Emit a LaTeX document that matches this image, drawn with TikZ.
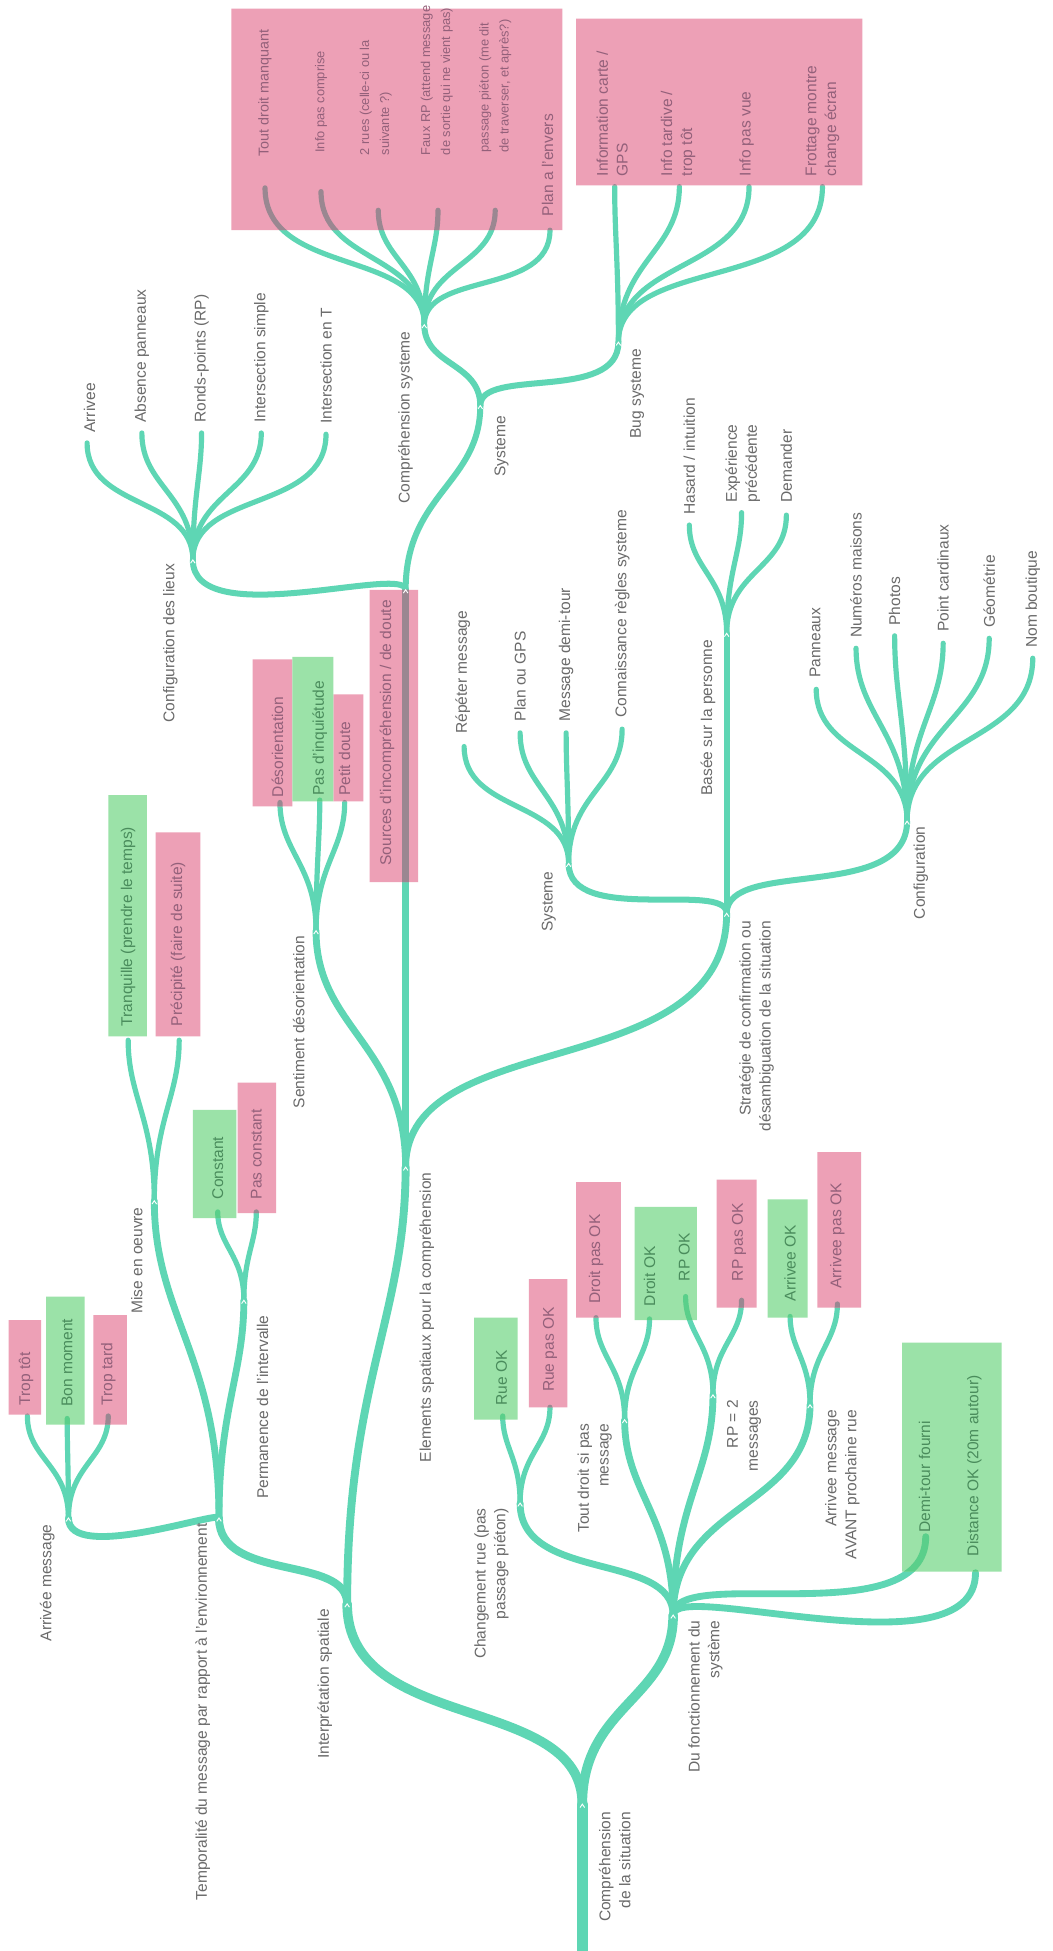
\documentclass[tikz,border=0pt]{standalone}
\usepackage{fontspec}
\setmainfont{Liberation Sans}
\usetikzlibrary{calc}
\definecolor{teal1}{HTML}{5ED6B4}
\definecolor{pinkb}{HTML}{EDA0B6}
\definecolor{greenb}{HTML}{9BE2A8}
\definecolor{inpink}{HTML}{9A8791}
\definecolor{ingreen}{HTML}{5ACF8A}
\definecolor{labc}{HTML}{6A6A6A}
\definecolor{pinkt}{HTML}{93607A}
\definecolor{greent}{HTML}{4A8C5C}
\newcommand\fs{\fontsize{7.5}{9.6}\selectfont}
\newcommand\fsb{\fontsize{6.2}{9.6}\selectfont}
\newcommand\fsc{\fontsize{6.9}{9.6}\selectfont}
\tikzset{
  bez/.style={to path={let \p1=(\tikztostart), \p2=(\tikztotarget),
      \n1={0.5*abs(\y2-\y1)+0.05*abs(\x2-\x1)},
      \n2={0.3*abs(\y2-\y1)+0.3*abs(\x2-\x1)} in
      .. controls (\x1,\y1+\n1) and (\x2,\y2-\n2) .. (\tikztotarget)}},
  lk/.style={draw=teal1, line cap=round},
  wA/.style={line width=5.4pt}, wB/.style={line width=4.6pt},
  wC/.style={line width=3.8pt}, wD/.style={line width=3.3pt},
  wE/.style={line width=2.9pt}, wF/.style={line width=2.5pt},
  leaf/.style={rotate=90, anchor=west, inner sep=0pt, align=left, text=labc, font=\fs},
  blab/.style={rotate=90, anchor=east, inner sep=0pt, align=right, text=labc, font=\fs},
  pinktx/.style={text=pinkt}, greentx/.style={text=greent},
  notch/.style={draw=white, line width=0.45pt},
}
\newcommand\allconns{%
  \draw[lk,wA] (RB) -- (R);
  \draw[lk,wB] (R) to[bez] (IS);
  \draw[lk,wB] (R) to[bez] (DF);
  \draw[lk,wC] (IS) to[bez] (TM);
  \draw[lk,wC] (IS) to[bez] (EL);
  \draw[lk,wD] (EL) to[bez] (SD);
  \draw[lk,wD] (EL) -- (SRC);
  \draw[lk,wD] (EL) to[bez] (ST);
  \draw[lk,wE] (SRC) to[bez] (CL);
  \draw[lk,wE] (SRC) to[bez] (SY);
  \draw[lk,wE] (SY) to[bez] (CS);
  \draw[lk,wE] (SY) to[bez] (BS);
  \draw[lk,wE] (ST) to[bez] (SY2);
  \draw[lk,wE] (ST) -- (BA);
  \draw[lk,wE] (ST) to[bez] (CF);
  \draw[lk,wD] (TM) to[bez] (AMs);
  \draw[lk,wD] (TM) to[bez] (MO);
  \draw[lk,wD] (TM) to[bez] (PI);
  \draw[lk,wD] (DF) to[bez] (CR);
  \draw[lk,wD] (DF) to[bez] (TD);
  \draw[lk,wD] (DF) to[bez] (RP2);
  \draw[lk,wD] (DF) to[bez] (AMv);
  \draw[lk,wD] (DF) to[bez] (e-dt);
  \draw[lk,wD] (DF) to[bez] (e-dist);
  \foreach \e in {tdm,ipc,rues,faux,pasp,plan} \draw[lk,wF] (CS) to[bez] (e-\e);
  \foreach \e in {info,itard,ivue,frot} \draw[lk,wF] (BS) to[bez] (e-\e);
  \foreach \e in {arr,abs,rond,isim,iT} \draw[lk,wF] (CL) to[bez] (e-\e);
  \foreach \e in {rep,pgps,mdt,conn} \draw[lk,wF] (SY2) to[bez] (e-\e);
  \foreach \e in {has,exp,dem} \draw[lk,wF] (BA) to[bez] (e-\e);
  \foreach \e in {pan,num,pho,pcard,geo,nomb} \draw[lk,wF] (CF) to[bez] (e-\e);
  \foreach \e in {deso,pasi,petit} \draw[lk,wF] (SD) to[bez] (e-\e);
  \foreach \e in {tranq,prec} \draw[lk,wF] (MO) to[bez] (e-\e);
  \foreach \e in {cst,pcst} \draw[lk,wF] (PI) to[bez] (e-\e);
  \foreach \e in {ttot,bonm,ttard} \draw[lk,wF] (AMs) to[bez] (e-\e);
  \foreach \e in {rok,rpas} \draw[lk,wF] (CR) to[bez] (e-\e);
  \foreach \e in {dpas,dok} \draw[lk,wF] (TD) to[bez] (e-\e);
  \foreach \e in {rpok,rppas} \draw[lk,wF] (RP2) to[bez] (e-\e);
  \foreach \e in {aok,apas} \draw[lk,wF] (AMv) to[bez] (e-\e);
}
\newcommand\pinkrects[1]{\path[#1]
  (186,7) rectangle (452,185)
  (463,15) rectangle (693,149)
  (297,474) rectangle (336,709)
  (203,530) rectangle (235,648)
  (268,558) rectangle (292,644)
  (125,669) rectangle (161,833)
  (191,870) rectangle (222,975)
  (7,1061) rectangle (33,1137)
  (75,1057) rectangle (102,1145)
  (425,1028) rectangle (456,1131)
  (463,950) rectangle (499,1059)
  (576,948) rectangle (608,1051)
  (657,926) rectangle (692,1051);}
\newcommand\greenrects[1]{\path[#1]
  (235,528) rectangle (268,644)
  (87,639) rectangle (118,833)
  (155,892) rectangle (190,979)
  (37,1042) rectangle (68,1145)
  (381,1059) rectangle (416,1141)
  (510,970) rectangle (560,1061)
  (617,964) rectangle (649,1059)
  (725,1079) rectangle (805,1263);}
\begin{document}
\begin{tikzpicture}[x=0.6pt,y=-0.6pt]
\path[use as bounding box, fill=white] (0,0) rectangle (846,1568);
% junctions
\coordinate (RB) at (468,1568);
\coordinate (R) at (468,1450);
\coordinate (IS) at (279,1289);
\coordinate (DF) at (541,1298);
\coordinate (TM) at (176,1220);
\coordinate (EL) at (326,938);
\coordinate (SD) at (254,748);
\coordinate (SRC) at (326,474);
\coordinate (ST) at (584,734);
\coordinate (CL) at (155,450);
\coordinate (SY) at (386,326);
\coordinate (CS) at (341,261);
\coordinate (BS) at (497,275);
\coordinate (SY2) at (457,694);
\coordinate (BA) at (584,509);
\coordinate (CF) at (729,660);
\coordinate (AMs) at (55,1220);
\coordinate (MO) at (124,965);
\coordinate (PI) at (196,1045);
\coordinate (CR) at (418,1208);
\coordinate (TD) at (502,1141);
\coordinate (RP2) at (573,1121);
\coordinate (AMv) at (651,1129);
% leaf ends
\coordinate (e-tdm) at (213,151);
\coordinate (e-ipc) at (258,154);
\coordinate (e-rues) at (304,169);
\coordinate (e-faux) at (352,169);
\coordinate (e-pasp) at (398,169);
\coordinate (e-plan) at (442,185);
\coordinate (e-info) at (494,150);
\coordinate (e-itard) at (546,150);
\coordinate (e-ivue) at (602,150);
\coordinate (e-frot) at (661,150);
\coordinate (e-arr) at (70,356);
\coordinate (e-abs) at (114,348);
\coordinate (e-rond) at (162,348);
\coordinate (e-isim) at (210,348);
\coordinate (e-iT) at (262,349);
\coordinate (e-rep) at (373,600);
\coordinate (e-pgps) at (418,589);
\coordinate (e-mdt) at (455,589);
\coordinate (e-conn) at (500,586);
\coordinate (e-has) at (554,422);
\coordinate (e-exp) at (596,412);
\coordinate (e-dem) at (632,414);
\coordinate (e-pan) at (656,554);
\coordinate (e-num) at (688,521);
\coordinate (e-pho) at (719,511);
\coordinate (e-pcard) at (758,517);
\coordinate (e-geo) at (795,513);
\coordinate (e-nomb) at (830,529);
\coordinate (e-deso) at (225,645);
\coordinate (e-pasi) at (257,643);
\coordinate (e-petit) at (277,645);
\coordinate (e-tranq) at (103,836);
\coordinate (e-prec) at (144,836);
\coordinate (e-cst) at (175,974);
\coordinate (e-pcst) at (206,974);
\coordinate (e-ttot) at (22,1138);
\coordinate (e-bonm) at (54,1140);
\coordinate (e-ttard) at (87,1138);
\coordinate (e-rok) at (404,1138);
\coordinate (e-rpas) at (442,1131);
\coordinate (e-dpas) at (479,1059);
\coordinate (e-dok) at (522,1060);
\coordinate (e-rpok) at (551,1042);
\coordinate (e-rppas) at (596,1045);
\coordinate (e-aok) at (635,1058);
\coordinate (e-apas) at (673,1048);
\coordinate (e-dt) at (744,1235);
\coordinate (e-dist) at (784,1264);
% connectors
\allconns
% boxes
\pinkrects{fill=pinkb}
\greenrects{fill=greenb}
\begin{scope}
  \pinkrects{clip}
  \tikzset{lk/.style={draw=inpink, line cap=round}}
  \allconns
\end{scope}
\begin{scope}
  \greenrects{clip}
  \tikzset{lk/.style={draw=ingreen, line cap=round}}
  \allconns
\end{scope}
% junction notches
\foreach \j in {R,IS,DF,TM,EL,SD,SRC,ST,CL,SY,CS,BS,SY2,BA,CF,AMs,MO,PI,CR,TD,RP2,AMv}
  \draw[notch] ([xshift=-1.1pt,yshift=-1.6pt]\j) -- (\j) -- ([xshift=1.1pt,yshift=-1.6pt]\j);
% branch labels
\node[blab] (l-root) at (494,1456) {Compréhension\\de la situation};
\node[blab] (l-DF) at (567,1302) {Du fonctionnement du\\système};
\node[blab] (l-IS) at (261,1293) {Interprétation spatiale};
\node[blab] (l-TM) at (163,1224) {Temporalité du message par rapport à l'environnement};
\node[blab] (l-EL) at (343,942) {Elements spatiaux pour la compréhension};
\node[blab] (l-SD) at (240,752) {Sentiment désorientation};
\node[blab,pinktx] (l-SRC) at (311,482) {Sources d'incompréhension / de doute};
\node[blab] (l-ST) at (608,740) {Stratégie de confirmation ou\\désambiguation de la situation};
\node[blab] (l-SY2) at (441,700) {Systeme};
\node[blab] (l-BA) at (569,514) {Basée sur la personne};
\node[blab] (l-CF) at (740,664) {Configuration};
\node[blab] (l-CL) at (137,453) {Configuration des lieux};
\node[blab] (l-SY) at (403,334) {Systeme};
\node[blab] (l-CS) at (326,266) {Compréhension systeme};
\node[blab] (l-BS) at (512,280) {Bug systeme};
\node[blab] (l-AMs) at (38,1225) {Arrivée message};
\node[blab] (l-MO) at (110,970) {Mise en oeuvre};
\node[blab] (l-PI) at (211,1057) {Permanence de l'intervalle};
\node[blab] (l-CR) at (395,1212) {Changement rue (pas\\passage piéton)};
\node[blab] (l-TD) at (478,1144) {Tout droit si pas\\message};
\node[blab] (l-RP2) at (598,1125) {RP = 2\\messages};
\node[blab] (l-AMv) at (677,1133) {Arrivee message\\AVANT prochaine rue};
% leaf labels
\node[leaf,pinktx,font=\fsc] (t-tdm) at (213,126) {Tout droit manquant};
\node[leaf,pinktx,font=\fsb] (t-ipc) at (258,123) {Info pas comprise};
\node[leaf,pinktx,font=\fsb] (t-rues) at (302,125) {2 rues (celle-ci ou la\\suivante ?)};
\node[leaf,pinktx,font=\fsb] (t-faux) at (351,125) {Faux RP (attend message\\de sortie qui ne vient pas)};
\node[leaf,pinktx,font=\fsb] (t-pasp) at (398,123) {passage piéton (me dit\\de traverser, et après?)};
\node[leaf,pinktx] (t-plan) at (440,174) {Plan a l'envers};
\node[leaf,pinktx] (t-info) at (492,142) {Information carte /\\GPS};
\node[leaf,pinktx] (t-itard) at (545,142) {Info tardive /\\trop tôt};
\node[leaf,pinktx] (t-ivue) at (600,142) {Info pas vue};
\node[leaf,pinktx] (t-frot) at (661,142) {Frottage montre\\change écran};
\node[leaf] (t-arr) at (72,348) {Arrivee};
\node[leaf] (t-abs) at (114,340) {Absence panneaux};
\node[leaf] (t-rond) at (162,340) {Ronds-points (RP)};
\node[leaf] (t-isim) at (210,340) {Intersection simple};
\node[leaf] (t-iT) at (262,341) {Intersection en T};
\node[leaf] (t-rep) at (372,590) {Répéter message};
\node[leaf] (t-pgps) at (418,580) {Plan ou GPS};
\node[leaf] (t-mdt) at (455,580) {Message demi-tour};
\node[leaf] (t-conn) at (500,577) {Connaissance règles systeme};
\node[leaf] (t-has) at (554,414) {Hasard / intuition};
\node[leaf] (t-exp) at (597,404) {Expérience\\précédente};
\node[leaf] (t-dem) at (632,404) {Demander};
\node[leaf] (t-pan) at (655,545) {Panneaux};
\node[leaf] (t-num) at (688,513) {Numéros maisons};
\node[leaf] (t-pho) at (719,503) {Photos};
\node[leaf] (t-pcard) at (758,508) {Point cardinaux};
\node[leaf] (t-geo) at (795,505) {Géométrie};
\node[leaf] (t-nomb) at (830,521) {Nom boutique};
\node[leaf,pinktx] (t-deso) at (223,641) {Désorientation};
\node[leaf,greentx] (t-pasi) at (257,640) {Pas d'inquiétude};
\node[leaf,pinktx] (t-petit) at (277,640) {Petit doute};
\node[leaf,greentx] (t-tranq) at (103,825) {Tranquille (prendre le temps)};
\node[leaf,pinktx] (t-prec) at (143,825) {Précipité (faire de suite)};
\node[leaf,greentx] (t-cst) at (175,964) {Constant};
\node[leaf,pinktx] (t-pcst) at (206,964) {Pas constant};
\node[leaf,pinktx] (t-ttot) at (21,1130) {Trop tôt};
\node[leaf,greentx] (t-bonm) at (54,1131) {Bon moment};
\node[leaf,pinktx] (t-ttard) at (87,1130) {Trop tard};
\node[leaf,greentx] (t-rok) at (403,1130) {Rue OK};
\node[leaf,pinktx] (t-rpas) at (442,1119) {Rue pas OK};
\node[leaf,pinktx] (t-dpas) at (479,1048) {Droit pas OK};
\node[leaf,greentx] (t-dok) at (522,1050) {Droit OK};
\node[leaf,greentx] (t-rpok) at (550,1030) {RP OK};
\node[leaf,pinktx] (t-rppas) at (594,1030) {RP pas OK};
\node[leaf,greentx] (t-aok) at (635,1046) {Arrivee OK};
\node[leaf,pinktx] (t-apas) at (673,1036) {Arrivee pas OK};
\node[leaf,greentx] (t-dt) at (743,1232) {Demi-tour fourni};
\node[leaf,greentx] (t-dist) at (783,1251) {Distance OK (20m autour)};
\end{tikzpicture}
\end{document}
